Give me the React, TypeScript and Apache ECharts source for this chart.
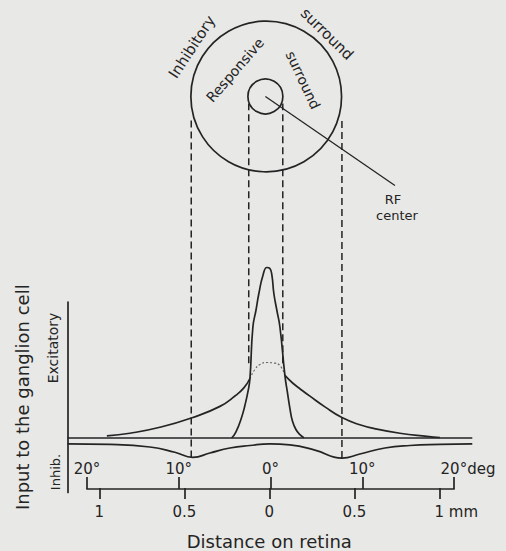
import { useEffect, useRef } from "react";
import * as echarts from "echarts";

// x: visual angle in degrees, y: relative input (center peak ≈ 100)
const surroundLeftX = [-17.72, -15.22, -11.96, -8.37, -5.43, -3.8, -2.83, -2.17];
const surroundLeftY = [1.2, 2.8, 6.3, 12.1, 18.6, 24.7, 29.5, 35.0];
const surroundHiddenX = [-2.17, -1.63, -1.09, -0.33, 0.43, 1.09, 1.63];
const surroundHiddenY = [35.0, 40.3, 43.2, 44.4, 44.1, 42.6, 36.8];
const surroundRightX = [1.63, 2.5, 3.26, 4.35, 5.98, 7.83, 9.78, 11.63, 14.13, 17.07, 18.48];
const surroundRightY = [36.8, 32.2, 29.0, 24.6, 18.3, 12.0, 7.8, 5.2, 2.8, 1.0, 0.3];

const centerX = [-4.16, -3.7, -3.08, -2.72, -2.36, -2.17, -1.85, -1.52, -1.2, -0.76, -0.33, 0, 0.22, 0.43, 0.76, 1.09, 1.63, 1.9, 2.17, 2.45, 2.83, 3.26, 3.7];
const centerY = [0, 3.5, 12.1, 19.1, 28, 35, 65.3, 75, 85, 95.6, 100.3, 99.7, 95.6, 85, 75, 65.3, 36.8, 27, 17.6, 10, 5, 2, 0.2];

const inhibX = [-22, -17.39, -13.04, -10.33, -8.37, -6.52, -4.35, -2.17, 0, 2.17, 4.89, 7.83, 9.78, 12.5, 15.22, 18.48, 22];
const inhibY = [-3.5, -3.8, -5.3, -8.4, -11.4, -8.8, -5.9, -4.4, -3.5, -4.1, -7.1, -11.8, -9.4, -5.9, -4.4, -3.8, -3.5];

const baselineX = [-22, 22];

// receptive field schematic (degrees / relative-input units)
const rfCenterX = -0.4;
const rfCenterY = 200.9;
const rfOuterRadius = 8.19;
const rfInnerRadius = 1.9;
const outerEdgesX = [-8.55, 7.83];
const outerEdgesBottom = [-11.4, -11.8];
const outerEdgesTop = 187.5;
const innerEdgesX = [-2.3, 1.4];
const innerEdgesBottom = 44;
const innerEdgesTop = 196.8;
const pointerEnd = [13.59, 148.5];

const degTicks = ["20°", "10°", "0°", "10°", "20°"];
const mmTicks = ["1", "0.5", "0", "0.5", "1"];

const INK = "#242424";
const FONT = '"DejaVu Sans", sans-serif';

const zip = (xs: number[], ys: number[]) => xs.map((x, i) => [x, ys[i]]);

export default function App() {
  const ref = useRef<HTMLDivElement>(null);
  useEffect(() => {
    if (!ref.current) return;
    const chart = echarts.init(ref.current, null, { renderer: "svg" });
    const lineBase = {
      type: "line" as const,
      xAxisIndex: 0,
      yAxisIndex: 0,
      symbol: "none",
      clip: false,
      silent: true,
      z: 3,
    };
    const solid = { color: INK, width: 1.7 };
    const dashed: any[] = [];
    outerEdgesX.forEach((x, i) =>
      dashed.push({
        ...lineBase,
        data: [[x, outerEdgesBottom[i]], [x, outerEdgesTop]],
        lineStyle: { color: INK, width: 1.5, type: [7, 4] },
      })
    );
    innerEdgesX.forEach((x) =>
      dashed.push({
        ...lineBase,
        data: [[x, innerEdgesBottom], [x, innerEdgesTop]],
        lineStyle: { color: INK, width: 1.5, type: [7, 4] },
      })
    );

    const degIdx = (v: number) => Math.round((v + 20) / 10);
    const mmIdx = (v: number) => Math.round((v + 1) / 0.5);
    const tickFont = { fontSize: 15, fontFamily: FONT, color: INK };

    const text = (t: string, x: number, y: number, deg: number, size: number) => ({
      type: "text",
      x,
      y,
      rotation: (deg * Math.PI) / 180,
      silent: true,
      style: {
        text: t,
        fill: INK,
        fontSize: size,
        fontFamily: FONT,
        align: "center",
        verticalAlign: "middle",
      },
    });

    chart.setOption({
      animation: false,
      backgroundColor: "#e8e8e6",
      grid: [
        { left: 67.5, top: 302, width: 404.8, height: 190.4 },
        { left: 87, top: 479, width: 367, height: 10 },
        { left: 99.3, top: 479, width: 340, height: 10 },
      ],
      xAxis: [
        { gridIndex: 0, type: "value", min: -22, max: 22, show: false },
        {
          gridIndex: 1,
          type: "value",
          min: -20,
          max: 20,
          interval: 10,
          position: "bottom",
          axisLine: { show: true, onZero: false, lineStyle: { color: INK, width: 1.7 } },
          axisTick: { show: true, inside: true, length: 12, lineStyle: { color: INK, width: 1.7 } },
          axisLabel: {
            inside: true,
            margin: 13,
            showMinLabel: true,
            showMaxLabel: true,
            ...tickFont,
            formatter: (v: number) =>
              v === 20 ? `{a|${degTicks[degIdx(v)]}}{b|deg}` : degTicks[degIdx(v)],
            rich: {
              a: { ...tickFont, padding: [0, 0, 0, 28] },
              b: { ...tickFont },
            },
          },
          splitLine: { show: false },
        },
        {
          gridIndex: 2,
          type: "value",
          min: -1,
          max: 1,
          interval: 0.5,
          position: "bottom",
          axisLine: { show: false, onZero: false },
          axisTick: { show: true, length: 11, lineStyle: { color: INK, width: 1.7 } },
          axisLabel: {
            margin: 16,
            showMinLabel: true,
            showMaxLabel: true,
            ...tickFont,
            formatter: (v: number) =>
              v === 1 ? `{a|${mmTicks[mmIdx(v)]}}{b| mm}` : mmTicks[mmIdx(v)],
            rich: {
              a: { ...tickFont, padding: [0, 0, 0, 34] },
              b: { ...tickFont },
            },
          },
          splitLine: { show: false },
          name: "Distance on retina",
          nameLocation: "middle",
          nameGap: 44,
          nameTextStyle: { fontSize: 18, fontFamily: FONT, color: INK },
        },
      ],
      yAxis: [
        {
          gridIndex: 0,
          type: "value",
          min: -32,
          max: 80,
          axisLine: { show: true, onZero: false, lineStyle: { color: INK, width: 1.7 } },
          axisTick: { show: false },
          axisLabel: { show: false },
          splitLine: { show: false },
          name: "Input to the ganglion cell",
          nameLocation: "middle",
          nameRotate: 90,
          nameGap: 36,
          nameTextStyle: { fontSize: 18, fontFamily: FONT, color: INK },
        },
        { gridIndex: 1, type: "value", show: false },
        { gridIndex: 2, type: "value", show: false },
      ],
      series: [
        { ...lineBase, data: zip(baselineX, [0, 0]), lineStyle: solid },
        { ...lineBase, data: zip(inhibX, inhibY), smooth: true, lineStyle: solid },
        { ...lineBase, data: zip(surroundLeftX, surroundLeftY), smooth: true, lineStyle: solid },
        { ...lineBase, data: zip(surroundHiddenX, surroundHiddenY), smooth: true, lineStyle: { color: "#6a6a6a", width: 1.2, type: [2, 2] } },
        { ...lineBase, data: zip(surroundRightX, surroundRightY), smooth: true, lineStyle: solid },
        { ...lineBase, data: zip(centerX, centerY), smooth: true, lineStyle: solid },
        ...dashed,
        {
          ...lineBase,
          data: [[rfCenterX - 0.09, rfCenterY], pointerEnd],
          lineStyle: { color: INK, width: 1.3 },
        },
        {
          type: "custom",
          xAxisIndex: 0,
          yAxisIndex: 0,
          clip: false,
          silent: true,
          data: [
            [rfCenterX, rfCenterY, rfOuterRadius],
            [rfCenterX - 0.09, rfCenterY, rfInnerRadius],
          ],
          renderItem: (_p: any, api: any) => {
            const c = api.coord([api.value(0), api.value(1)]);
            const r = api.size([api.value(2), 0])[0];
            return {
              type: "circle",
              shape: { cx: c[0], cy: c[1], r },
              style: { fill: "none", stroke: INK, lineWidth: 1.7 },
            };
          },
        },
      ],
      graphic: [
        text("Inhibitory", 192, 47, 56.7, 15),
        text("surround", 327, 34, -44.5, 15),
        text("Responsive", 235, 70, 49, 14),
        text("surround", 303, 80, -65, 14),
        text("RF", 393, 199, 0, 13),
        text("center", 397, 215, 0, 13),
        text("Excitatory", 53, 348, 90, 14),
        text("Inhib.", 55, 472, 90, 13),
      ],
    });
    return () => chart.dispose();
  }, []);
  return (
    <div
      ref={ref}
      style={{ position: "absolute", left: 0, top: 0, width: 506, height: 551 }}
    />
  );
}
